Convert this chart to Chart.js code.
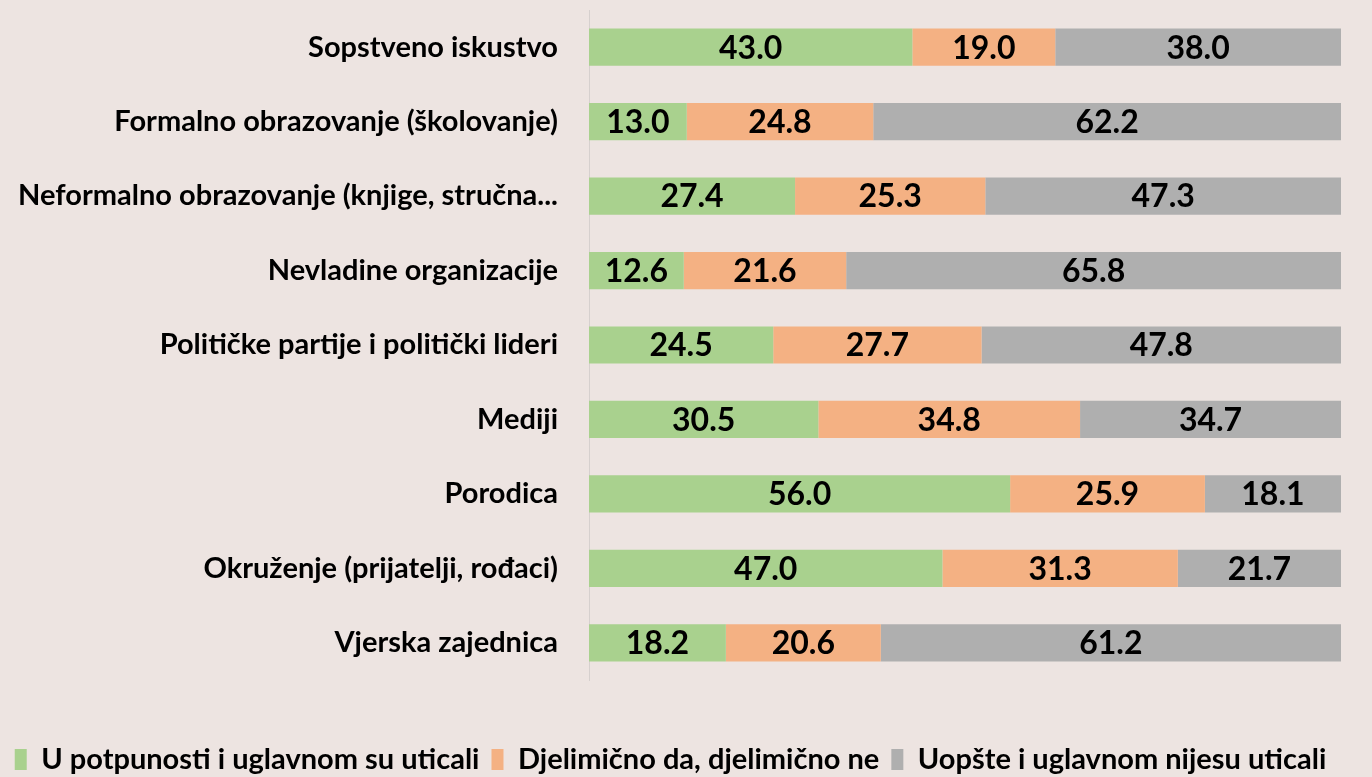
<!DOCTYPE html>
<html>
<head>
<meta charset="utf-8">
<script src="https://cdn.jsdelivr.net/npm/chart.js@4"></script>
<style>
  html, body { margin: 0; padding: 0; background: #ede4e1; }
  #wrap { width: 1372px; height: 777px; }
</style>
</head>
<body>
<div id="wrap"><canvas id="mycanvas" width="1372" height="777"></canvas></div>
<script>
var categories = [
  "Sopstveno iskustvo",
  "Formalno obrazovanje (školovanje)",
  "Neformalno obrazovanje (knjige, stručna...",
  "Nevladine organizacije",
  "Političke partije i politički lideri",
  "Mediji",
  "Porodica",
  "Okruženje (prijatelji, rođaci)",
  "Vjerska zajednica"
];
var fully = [43.0, 13.0, 27.4, 12.6, 24.5, 30.5, 56.0, 47.0, 18.2];
var partly = [19.0, 24.8, 25.3, 21.6, 27.7, 34.8, 25.9, 31.3, 20.6];
var notAt = [38.0, 62.2, 47.3, 65.8, 47.8, 34.7, 18.1, 21.7, 61.2];
var seriesNames = [
  "U potpunosti i uglavnom su uticali",
  "Djelimično da, djelimično ne",
  "Uopšte i uglavnom nijesu uticali"
];

var fontFamily = "Lato, 'Open Sans', sans-serif";

// draws the value in the middle of each bar segment
var valueLabels = {
  id: 'valueLabels',
  afterDatasetsDraw: function(chart) {
    var ctx = chart.ctx;
    ctx.save();
    ctx.fillStyle = '#000';
    ctx.font = 'bold 32px ' + fontFamily;
    ctx.textAlign = 'center';
    ctx.textBaseline = 'middle';
    chart.data.datasets.forEach(function(ds, i) {
      var meta = chart.getDatasetMeta(i);
      meta.data.forEach(function(bar, j) {
        var x = (bar.x + bar.base) / 2;
        ctx.fillText(ds.data[j].toFixed(1), x, bar.y + 1);
      });
    });
    ctx.restore();
  }
};

var chartdata = {
  labels: categories,
  datasets: [
    { label: seriesNames[0], data: fully, backgroundColor: "#a9d18e" },
    { label: seriesNames[1], data: partly, backgroundColor: "#f4b183" },
    { label: seriesNames[2], data: notAt, backgroundColor: "#afafaf" }
  ]
};

var ctx = document.getElementById('mycanvas');
var chart = new Chart(ctx, {
  type: 'bar',
  data: chartdata,
  plugins: [valueLabels],
  options: {
    indexAxis: 'y',
    responsive: false,
    animation: false,
    categoryPercentage: 1,
    barPercentage: 0.5,
    layout: { padding: { left: 0, right: 31, top: 10, bottom: -7 } },
    plugins: {
      legend: {
        position: 'bottom',
        labels: {
          font: { family: fontFamily, size: 29, weight: 'bold' },
          color: '#000',
          boxWidth: 12,
          boxHeight: 21,
          padding: 12
        }
      },
      tooltip: { enabled: false }
    },
    scales: {
      x: {
        stacked: true,
        min: 0,
        max: 100,
        grid: { display: false },
        border: { display: false },
        ticks: { display: false },
        afterFit: function(scale) { scale.height = 53; }
      },
      y: {
        stacked: true,
        grid: { display: true, drawOnChartArea: false, drawTicks: true, tickLength: 31, tickColor: 'rgba(0,0,0,0)' },
        border: { display: true, color: '#d6d0ce', width: 1 },
        ticks: {
          color: '#000',
          padding: 0,
          font: { family: fontFamily, size: 29, weight: 'bold' }
        },
        afterFit: function(scale) {
          scale.width = 589;
          scale.paddingTop = 0;
          scale.paddingBottom = 0;
        }
      }
    }
  }
});
</script>
</body>
</html>
